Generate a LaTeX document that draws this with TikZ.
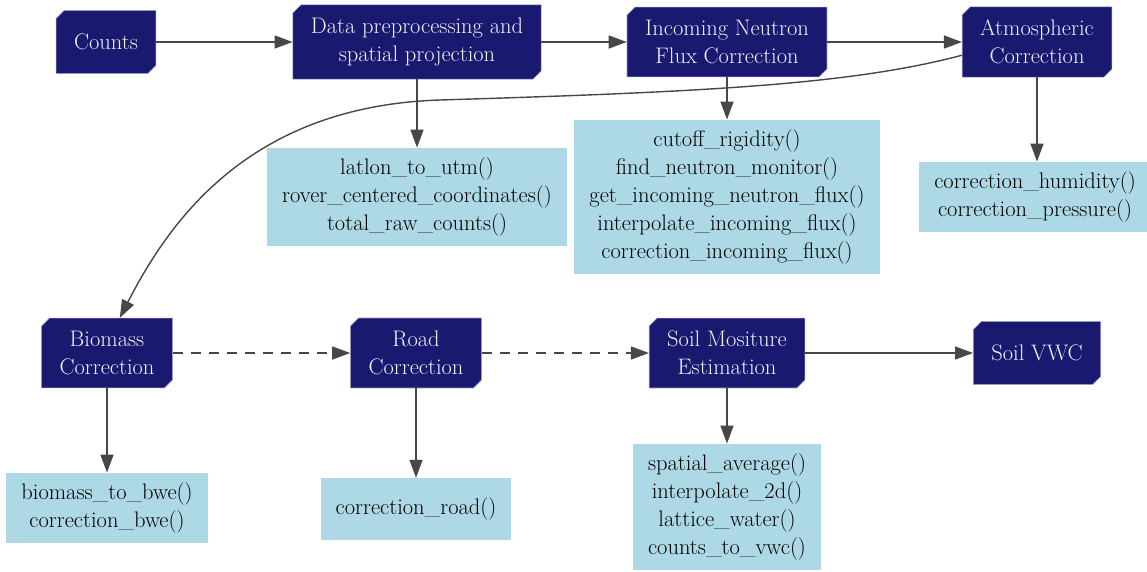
\documentclass[tikz,border=0pt]{standalone}
\usepackage{tikz}
\usetikzlibrary{arrows.meta}
\usetikzlibrary{shapes.misc}
\definecolor{navy}{HTML}{191970}
\definecolor{navytext}{HTML}{F0F0FA}
\definecolor{lblue}{HTML}{ADD8E6}
\definecolor{edgegray}{HTML}{474747}
\tikzset{
  stage/.style={chamfered rectangle,chamfered rectangle corners={north west,south east},
    chamfered rectangle xsep=4pt,chamfered rectangle ysep=4pt,
    fill=navy,draw=navy!45!white,line width=0.6pt,text=navytext,align=center,
    inner xsep=14pt,inner ysep=9pt,minimum height=63pt,font=\rmfamily\fontsize{22.5}{28}\selectfont},
  funcs/.style={rectangle,fill=lblue,text=black,align=center,minimum height=62pt,
    inner xsep=15pt,inner ysep=10pt,font=\rmfamily\fontsize{22.5}{28}\selectfont},
  flow/.style={-{Triangle[length=18pt,width=13pt]},draw=edgegray,line width=1.4pt},
  skip/.style={flow,dash pattern=on 10pt off 8pt},
}

\begin{document}
\begin{tikzpicture}[x=1pt,y=-1pt]
    \useasboundingbox (0,0) rectangle (1147,571);
    \node(cnt)[stage] at (106,42) {Counts};
    \node(pre)[stage] at (417,42) {Data preprocessing and\\spatial projection};
    \node(inc)[stage] at (727,42) {Incoming Neutron\\Flux Correction};
    \node(atm)[stage] at (1037,42) {Atmospheric\\Correction};
    \node(bio)[stage] at (107,353) {Biomass\\Correction};
    \node(road)[stage] at (416,353) {Road\\Correction};
    \node(est)[stage] at (727,353) {Soil Mositure\\Estimation};
    \node(vwc)[stage] at (1037,353) {Soil VWC};

    \node(prefn)[funcs] at (417,197) {latlon\_to\_utm()\\rover\_centered\_coordinates()\\total\_raw\_counts()};
    \node(incfn)[funcs] at (727,197) {cutoff\_rigidity()\\find\_neutron\_monitor()\\get\_incoming\_neutron\_flux()\\interpolate\_incoming\_flux()\\correction\_incoming\_flux()};
    \node(atmfn)[funcs] at (1035,197) {correction\_humidity()\\correction\_pressure()};
    \node(biofn)[funcs] at (107,508) {biomass\_to\_bwe()\\correction\_bwe()};
    \node(roadfn)[funcs] at (416,509) {correction\_road()};
    \node(estfn)[funcs] at (727,507) {spatial\_average()\\interpolate\_2d()\\lattice\_water()\\counts\_to\_vwc()};

    \coordinate(bend) at (440,100);

    \draw[flow] (cnt.east)--(pre.west);
    \draw[flow] (pre.east)--(inc.west);
    \draw[flow] (inc.east)--(atm.west);
    \draw[flow] (atm.190) .. controls (850,85) and (700,92) .. (bend) .. controls (250,106) and (170,220) .. (bio.70);
    \draw[skip] (bio.east)--(road.west);
    \draw[skip] (road.east)--(est.west);
    \draw[flow] (est.east)--(vwc.west);
    \draw[flow] (pre.south)--(prefn.north);
    \draw[flow] (inc.south)--(incfn.north);
    \draw[flow] (atm.south)--(atm.south |- atmfn.north);
    \draw[flow] (bio.south)--(biofn.north);
    \draw[flow] (road.south)--(roadfn.north);
    \draw[flow] (est.south)--(estfn.north);
\end{tikzpicture}
\end{document}
